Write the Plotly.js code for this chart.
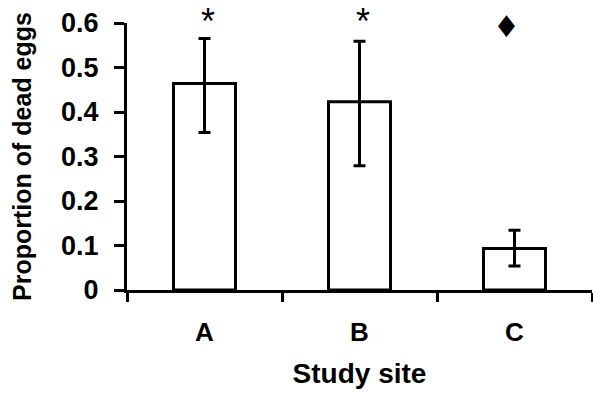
<!DOCTYPE html>
<html>
<head>
<meta charset="utf-8">
<script src="https://cdn.plot.ly/plotly-3.0.1.min.js"></script>
<style>html,body{margin:0;padding:0;background:#fff;}#chart{width:593px;height:394px;}</style>
</head>
<body>
<div id="chart"></div>
<script>
const sites = ['A', 'B', 'C'];
const proportionDead = [0.464, 0.423, 0.093];
const errorUpper = [0.101, 0.136, 0.041];
const errorLower = [0.110, 0.144, 0.039];
const markers = ['*', '*', '\u2666'];
const yTickValues = [0, 0.1, 0.2, 0.3, 0.4, 0.5, 0.6];
const yTickLabels = ['0', '0.1', '0.2', '0.3', '0.4', '0.5', '0.6'];

const FONT = 'Arial, "Liberation Sans", sans-serif';

const trace = {
  type: 'bar',
  x: sites,
  y: proportionDead,
  width: 0.4,
  marker: {color: '#ffffff', line: {color: '#000000', width: 3}},
  error_y: {
    type: 'data', symmetric: false,
    array: errorUpper, arrayminus: errorLower,
    color: '#000000', thickness: 3, width: 6
  },
  hoverinfo: 'none'
};

const annotations = sites.map((s, i) => ({
  x: s, y: 0.6, xref: 'x', yref: 'y',
  text: markers[i],
  showarrow: false,
  xshift: markers[i] === '*' ? 3 : -8,
  yanchor: 'middle',
  yshift: markers[i] === '*' ? 2 : -3,
  font: markers[i] === '*'
    ? {family: FONT, size: 36, color: '#000'}
    : {family: '"DejaVu Sans", sans-serif', size: 30, color: '#000'}
}));

const layout = {
  width: 593, height: 394,
  margin: {l: 127, r: 1, t: 23, b: 103.5},
  paper_bgcolor: '#ffffff', plot_bgcolor: '#ffffff',
  showlegend: false,
  font: {family: FONT, color: '#000'},
  xaxis: {
    type: 'category',
    range: [-0.5, 2.5],
    showline: true, linecolor: '#000', linewidth: 3,
    ticks: 'outside', tickson: 'boundaries', ticklen: 9, tickwidth: 3, tickcolor: '#000',
    showgrid: false, zeroline: false,
    tickfont: {family: FONT, size: 26, color: '#000', weight: 'bold'},
    ticklabelstandoff: 17,
    title: {text: 'Study site', font: {family: FONT, size: 28, color: '#000', weight: 'bold'}, standoff: 18},
    automargin: false
  },
  yaxis: {
    range: [0, 0.6],
    tickvals: yTickValues, ticktext: yTickLabels,
    showline: true, linecolor: '#000', linewidth: 3,
    ticks: 'outside', ticklen: 10, tickwidth: 3, tickcolor: '#000',
    showgrid: false, zeroline: false,
    tickfont: {family: FONT, size: 27, color: '#000', weight: 'bold'},
    ticklabelstandoff: 10,
    title: {text: 'Proportion of dead eggs', font: {family: FONT, size: 25, color: '#000', weight: 'bold'}, standoff: 23},
    automargin: false
  },
  annotations: annotations
};

Plotly.newPlot('chart', [trace], layout, {displayModeBar: false, staticPlot: true});
</script>
</body>
</html>
